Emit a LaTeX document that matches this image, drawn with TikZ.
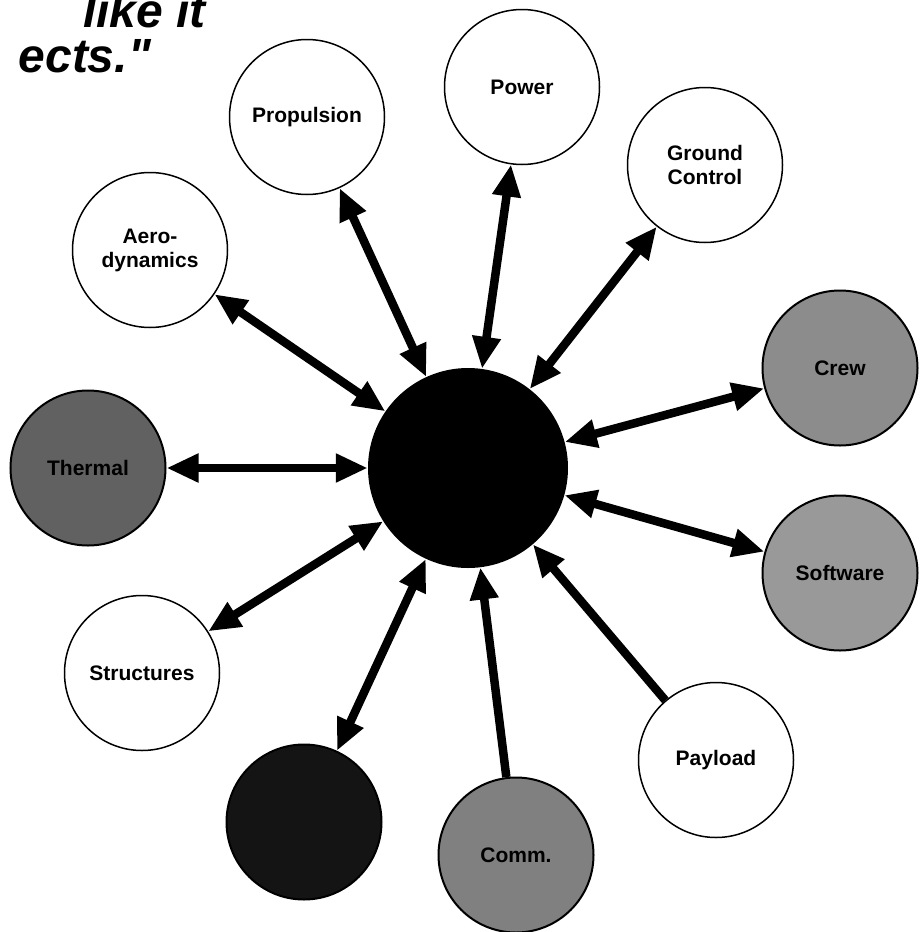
\documentclass[tikz,border=0pt]{standalone}
\usepackage{fontspec}
\setmainfont{Liberation Sans}
\newfontfamily\capfont[Ligatures=TeXOff]{Liberation Sans}
\usetikzlibrary{arrows.meta}

\begin{document}
\begin{tikzpicture}[x=1pt,y=-1pt,
  topic/.style={circle,draw=black,line width=1.5pt,fill=white,inner sep=0pt,minimum size=155pt,font=\fontsize{21}{24}\selectfont\bfseries,align=center},
  shaded/.style={topic,line width=2pt},
  link/.style={line width=8.5pt,{Triangle[length=32pt,width=27pt]}-{Triangle[length=32pt,width=27pt]}},
  feed/.style={line width=8.5pt,-{Triangle[length=32pt,width=27pt]}},
  quote/.style={font=\capfont\fontsize{48}{48}\selectfont\bfseries\itshape,anchor=base east,inner sep=0pt}]
\useasboundingbox [fill=white] (0,0) rectangle (923,932);
% cut-off caption at the top left
\node [quote] (capA) at (206,27) {like it};
\node [quote] (capB) at (151,72) {ects."};
% the hub
\node [circle,fill=black,inner sep=0pt,minimum size=200pt] (hub) at (468,468) {};
% the disciplines round it
\node [topic] (power) at (522,87) {Power};
\node [topic] (prop) at (307,117) {Propulsion};
\node [topic] (aero) at (150,250) {Aero-\\dynamics};
\node [topic] (ground) at (705,165) {Ground\\Control};
\node [shaded,fill=black!45] (crew) at (840,368) {Crew};
\node [shaded,fill=black!62] (thermal) at (88,468) {Thermal};
\node [shaded,fill=black!40] (soft) at (840,573) {Software};
\node [topic] (struct) at (142,673) {Structures};
\node [topic] (payload) at (716,760) {Payload};
\node [shaded,fill=black!50] (comm) at (516,855) {Comm.};
\node [shaded,fill=black!92] (dark) at (304,822) {};
% connectors
\draw [link] (power) -- (hub);
\draw [link] (prop) -- (hub);
\draw [link] (aero) -- (hub);
\draw [link] (ground) -- (hub);
\draw [link] (crew) -- (hub);
\draw [link] (thermal) -- (hub);
\draw [link] (soft) -- (hub);
\draw [link] (struct) -- (hub);
\draw [link] (dark) -- (hub);
\draw [feed] (comm) -- (hub);
\draw [feed] (payload) -- (hub);
\end{tikzpicture}
\end{document}
